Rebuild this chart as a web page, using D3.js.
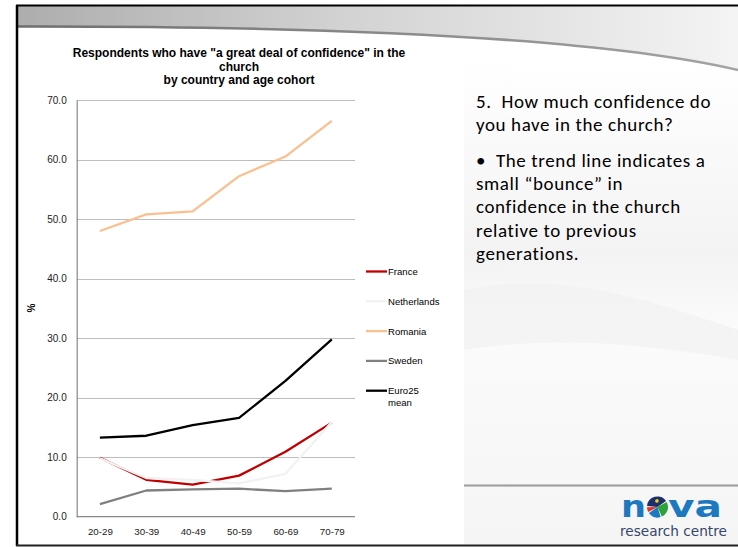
<!DOCTYPE html>
<html>
<head>
<meta charset="utf-8">
<script src="https://cdn.jsdelivr.net/npm/d3@7/dist/d3.min.js"></script>
<style>
  html, body { margin: 0; padding: 0; background: #fff; }
  svg { display: block; }
  .note { white-space: pre; }
</style>
</head>
<body>
<svg id="slide" width="738" height="547"></svg>
<script>
// Age cohorts on the x axis
const cohorts = ["20-29", "30-39", "40-49", "50-59", "60-69", "70-79"];

// Share (%) with "a great deal of confidence" in the church, per cohort
const france      = [9.9, 6.2, 5.4, 6.9, 10.9, 15.8];
const netherlands = [9.8, 6.5, 6.2, 5.6, 7.2, 15.9];
const romania     = [48.0, 50.8, 51.3, 57.2, 60.5, 66.5];
const sweden      = [2.1, 4.4, 4.6, 4.7, 4.3, 4.7];
const euro25      = [13.3, 13.6, 15.4, 16.6, 22.8, 29.8];

const seriesNames = ["France", "Netherlands", "Romania", "Sweden", "Euro25 mean"];
const yTicks = [0, 10, 20, 30, 40, 50, 60, 70];

const titleLines = [
  "Respondents who have \"a great deal of confidence\" in the",
  "church",
  "by country and age cohort"
];

const noteLines = [
  { t: "5.  How much confidence do", y: 108 },
  { t: "you have in the church?", y: 131 },
  { t: "\u2022  The trend line indicates a", y: 167 },
  { t: "small \u201cbounce\u201d in", y: 190 },
  { t: "confidence in the church", y: 213 },
  { t: "relative to previous", y: 237 },
  { t: "generations.", y: 260 }
];

const series = [
  { name: seriesNames[0], values: france,      color: "#c00000" },
  { name: seriesNames[1], values: netherlands, color: "#f2f2f2" },
  { name: seriesNames[2], values: romania,     color: "#fac090" },
  { name: seriesNames[3], values: sweden,      color: "#808080" },
  { name: seriesNames[4], values: euro25,      color: "#000000" }
];

const ARIAL = "'Liberation Sans', Arial, Helvetica, sans-serif";

// scale a text selection's font so that its first node spans `width` pixels
function fitFont(sel, width) {
  const base = 10;
  sel.attr("font-size", base);
  const w = sel.node().getComputedTextLength();
  const size = base * width / w;
  sel.attr("font-size", size);
  return size;
}

const svg = d3.select("#slide");
const W = 738, H = 547;
const defs = svg.append("defs");

// ---------- slide background ----------
const hdrGrad = defs.append("linearGradient").attr("id", "hdr").attr("x1", 0).attr("x2", 1).attr("y1", 0).attr("y2", 0);
hdrGrad.append("stop").attr("offset", 0).attr("stop-color", "#adadad");
hdrGrad.append("stop").attr("offset", 0.45).attr("stop-color", "#d2d2d2");
hdrGrad.append("stop").attr("offset", 1).attr("stop-color", "#f4f4f4");

const swooshGrad = defs.append("linearGradient").attr("id", "swoosh").attr("x1", 0).attr("x2", 1).attr("y1", 0).attr("y2", 0);
swooshGrad.append("stop").attr("offset", 0).attr("stop-color", "#6e6e6e");
swooshGrad.append("stop").attr("offset", 1).attr("stop-color", "#a4a4a4");

const panelGrad = defs.append("linearGradient").attr("id", "panel").attr("x1", 0).attr("x2", 0).attr("y1", 0).attr("y2", 1);
panelGrad.append("stop").attr("offset", 0).attr("stop-color", "#ffffff");
panelGrad.append("stop").attr("offset", 0.4).attr("stop-color", "#f3f3f3");
panelGrad.append("stop").attr("offset", 0.55).attr("stop-color", "#fbfbfb");
panelGrad.append("stop").attr("offset", 1).attr("stop-color", "#f5f5f5");

svg.append("rect").attr("width", W).attr("height", H).attr("fill", "#ffffff");

// right-hand text panel
svg.append("rect").attr("x", 464).attr("y", 60).attr("width", W - 464).attr("height", 486)
  .attr("fill", "url(#panel)");
svg.append("path")
  .attr("d", "M464,290 C560,270 650,300 738,330 L738,360 C650,345 560,335 464,350 Z")
  .attr("fill", "#f0f0f0").attr("opacity", 0.6);

// header band with its curved edge
svg.append("path")
  .attr("d", "M17,6 L738,6 L738,70 C600,38 350,26 17,26 Z")
  .attr("fill", "url(#hdr)");
svg.append("path")
  .attr("d", "M17,26.5 C350,26 600,38 738,70")
  .attr("fill", "none").attr("stroke", "url(#swoosh)").attr("stroke-width", 2.6);

// frame
svg.append("line").attr("x1", 16).attr("x2", W).attr("y1", 5.5).attr("y2", 5.5).attr("stroke", "#000").attr("stroke-width", 2);
svg.append("line").attr("x1", 17).attr("x2", 17).attr("y1", 5).attr("y2", 546).attr("stroke", "#000").attr("stroke-width", 2.5);
svg.append("line").attr("x1", 16).attr("x2", W).attr("y1", 545.5).attr("y2", 545.5).attr("stroke", "#222").attr("stroke-width", 2);

// rule above the logo
svg.append("line").attr("x1", 464).attr("x2", W).attr("y1", 485.5).attr("y2", 485.5).attr("stroke", "#9a9a9a").attr("stroke-width", 2);

// ---------- chart ----------
const plot = { left: 76.7, right: 355, top: 100, bottom: 516.7 };
const x = d3.scalePoint().domain(cohorts).range([plot.left, plot.right]).padding(0.5);
const y = d3.scaleLinear().domain([0, 70]).range([plot.bottom, plot.top]);

const chart = svg.append("g").attr("font-family", ARIAL);

// title
const titleText = chart.append("g").selectAll("text").data(titleLines).join("text")
  .attr("x", 239).attr("y", (d, i) => 57 + i * 13.5)
  .attr("text-anchor", "middle").attr("font-weight", "bold").attr("fill", "#000")
  .attr("font-family", ARIAL).text(d => d);
const titleSize = fitFont(titleText, 333);
titleText.attr("font-size", titleSize);

// gridlines
chart.append("g").selectAll("line").data(yTicks.filter(v => v > 0)).join("line")
  .attr("x1", plot.left).attr("x2", plot.right)
  .attr("y1", d => Math.round(y(d)) + 0.5).attr("y2", d => Math.round(y(d)) + 0.5)
  .attr("stroke", "#bdbdbd").attr("stroke-width", 1);

// y axis
const yAxis = chart.append("g").attr("transform", `translate(${plot.left},0)`)
  .call(d3.axisLeft(y).tickValues(yTicks).tickFormat(d3.format(".1f")).tickSize(0).tickPadding(10));
yAxis.select(".domain").attr("stroke", "#888").attr("stroke-width", 1.2);
const yLabels = yAxis.selectAll("text").attr("fill", "#222").attr("font-family", ARIAL);
const yLabelSize = fitFont(yAxis.selectAll("text").filter(d => d === 40), 19.5);
yLabels.attr("font-size", yLabelSize);

// x axis
const xAxis = chart.append("g").attr("transform", `translate(0,${plot.bottom})`)
  .call(d3.axisBottom(x).tickSize(0).tickPadding(11));
xAxis.select(".domain").attr("stroke", "#888").attr("stroke-width", 1.2)
  .attr("d", `M${plot.left},0H${plot.right}`);
const xLabels = xAxis.selectAll("text").attr("fill", "#222").attr("font-family", ARIAL);
const xLabelSize = fitFont(xAxis.selectAll("text").filter(d => d === "20-29"), 25);
xLabels.attr("font-size", xLabelSize);

// y-axis title
chart.append("text")
  .attr("transform", "translate(35,308) rotate(-90)")
  .attr("text-anchor", "middle").attr("font-size", yLabelSize).attr("font-weight", "bold")
  .attr("font-family", ARIAL).text("%");

// lines
const line = d3.line().x((d, i) => x(cohorts[i])).y(d => y(d));
chart.append("g").selectAll("path").data(series).join("path")
  .attr("d", d => line(d.values))
  .attr("fill", "none").attr("stroke", d => d.color)
  .attr("stroke-width", 2.3).attr("stroke-linejoin", "round");

// legend
const legend = chart.append("g").selectAll("g").data(series).join("g")
  .attr("transform", (d, i) => `translate(366,${271.5 + i * 29.8})`);
legend.append("line").attr("x1", 0).attr("x2", 21).attr("y1", 0).attr("y2", 0)
  .attr("stroke", d => d.color).attr("stroke-width", 2.3);
const legendText = legend.append("text").attr("x", 22).attr("y", 3.4).attr("fill", "#000")
  .attr("font-family", ARIAL)
  .each(function (d) {
    const parts = d.name === "Euro25 mean" ? ["Euro25", "mean"] : [d.name];
    d3.select(this).selectAll("tspan").data(parts).join("tspan")
      .attr("x", 22).attr("dy", (p, i) => i === 0 ? 0 : 11.5).text(p => p);
  });
const legendSize = fitFont(legendText.filter(d => d.name === "Netherlands"), 51.5);
legendText.attr("font-size", legendSize);

// ---------- note text ----------
const notes = svg.append("g").attr("font-family", "Carlito, Lato, 'Open Sans', sans-serif").attr("fill", "#000");
const noteText = notes.selectAll("text").data(noteLines).join("text")
  .attr("class", "note").attr("xml:space", "preserve")
  .attr("x", 476).attr("y", d => d.y).text(d => d.t);
const noteSize = Math.min(fitFont(noteText, 235), 19);
noteText.attr("font-size", noteSize);
// open the tracking a little so the first line still spans its box
const spanNow = noteText.node().getComputedTextLength();
const nChars = noteLines[0].t.length;
noteText.attr("letter-spacing", Math.max(0, (235 - spanNow) / nChars));

// ---------- logo ----------
const logo = svg.append("g");
const blue = "#1c78bf";
logo.append("text").attr("x", 621).attr("y", 517).attr("font-family", "'DejaVu Sans', sans-serif")
  .attr("font-size", 31).attr("fill", blue).attr("font-weight", "bold")
  .attr("textLength", 25).attr("lengthAdjust", "spacingAndGlyphs").text("n");
logo.append("text").attr("x", 668).attr("y", 517).attr("font-family", "'DejaVu Sans', sans-serif")
  .attr("font-size", 31).attr("fill", blue).attr("font-weight", "bold")
  .attr("textLength", 54).attr("lengthAdjust", "spacingAndGlyphs").text("va");

const globe = logo.append("g").attr("transform", "translate(657.5,507) rotate(-15)");
const arc = d3.arc().innerRadius(0).outerRadius(10.5).padAngle(0.12);
const wedges = [
  { c: "#1b2f6e", a0: -Math.PI / 2 + 0.3, a1: Math.PI / 2 - 0.3 },
  { c: "#2aa43a", a0: Math.PI / 2 - 0.3, a1: Math.PI - 0.1 },
  { c: "#1c78bf", a0: Math.PI - 0.1, a1: Math.PI * 1.5 - 0.3 },
  { c: "#e2332b", a0: Math.PI * 1.5 - 0.3, a1: Math.PI * 1.5 + 0.3 }
];
globe.selectAll("path").data(wedges).join("path")
  .attr("d", d => arc({ startAngle: d.a0, endAngle: d.a1 }))
  .attr("fill", d => d.c);
globe.append("circle").attr("cx", 1).attr("cy", -6).attr("r", 1.8).attr("fill", "#f5d100");

const tag = logo.append("text").attr("x", 620).attr("y", 535.5)
  .attr("font-family", "'DejaVu Sans', sans-serif").attr("fill", "#34466b").text("research centre");
fitFont(tag, 107);
</script>
</body>
</html>
